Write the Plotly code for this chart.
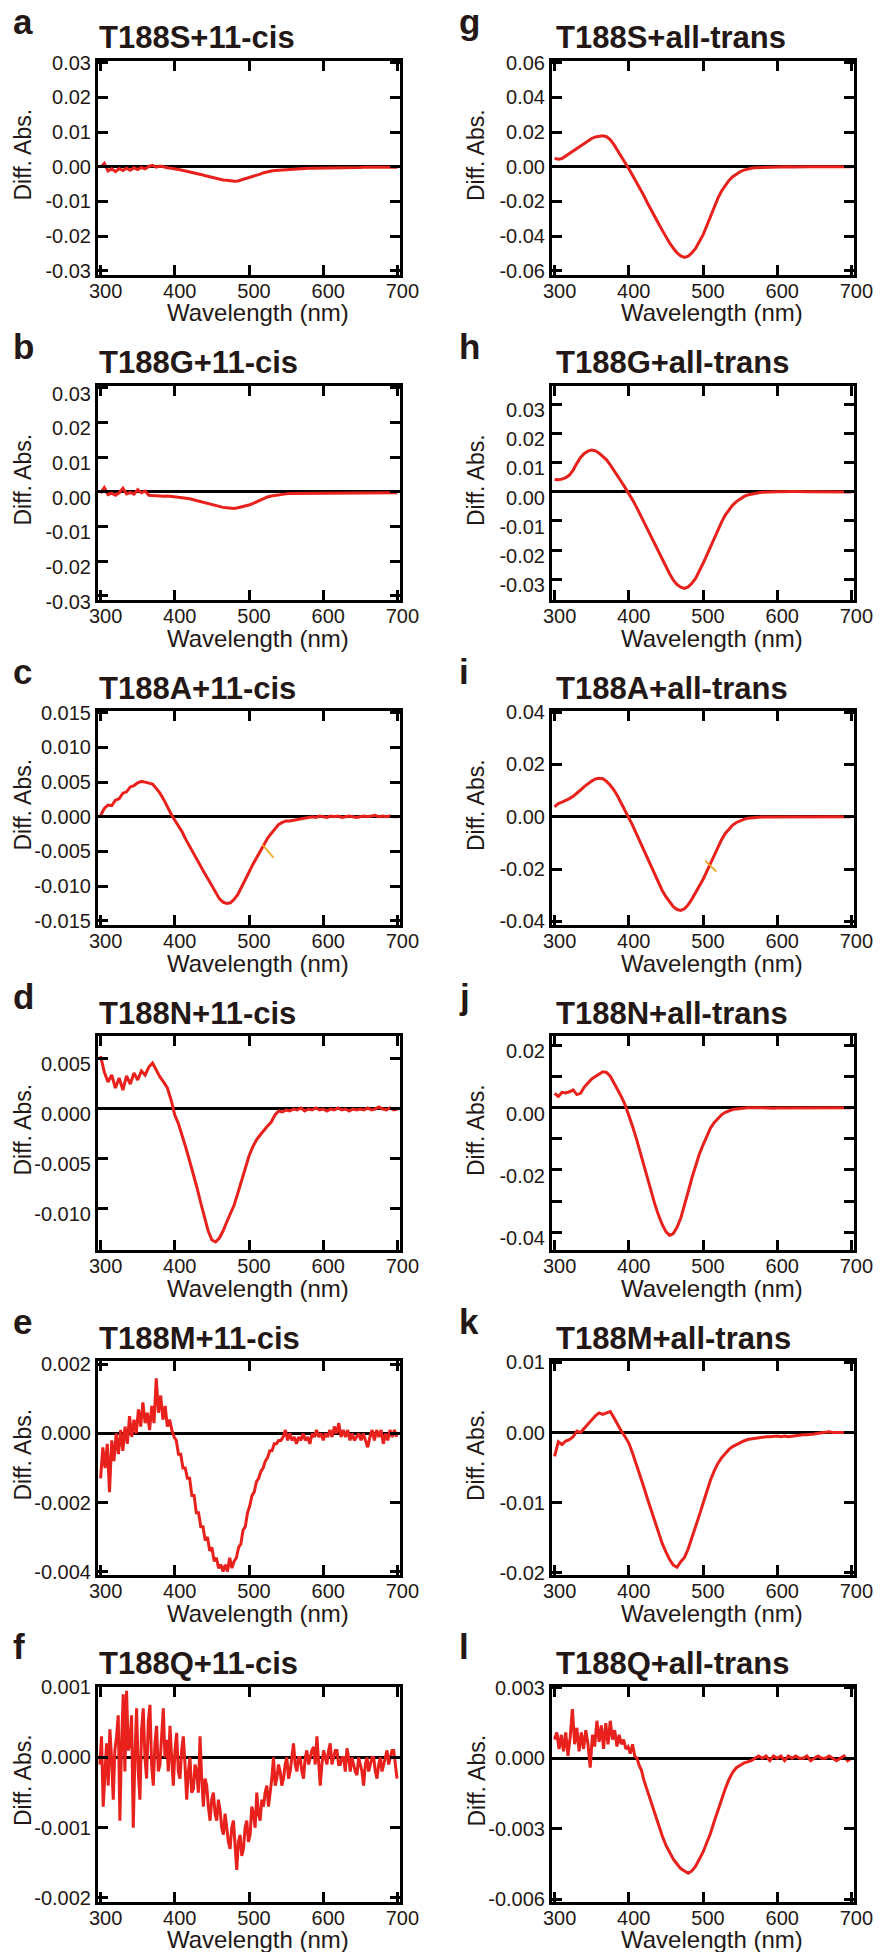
import plotly.graph_objects as go

# ---------------- data ----------------
WL5 = list(range(300, 701, 5))            # 5 nm grid
WL3 = list(range(300, 700, 3))            # 3 nm grid (noisy panel e)
WL_F = [299 + 2.25 * i for i in range(179)]  # sampling used for panel f
WL_L = list(range(300, 420, 3)) + list(range(420, 701, 5))

a_T188S_cis = [
    -0.0002, 0.0010, -0.0012, -0.0006, -0.0014, -0.0005, -0.0011, -0.0004, -0.0010, -0.0003,
    -0.0008, -0.0002, -0.0006, 0.0001, 0.0004, -0.0001, 0.0002, -0.0001, -0.0003, -0.0004,
    -0.0005, -0.0008, -0.0010, -0.0012, -0.0014, -0.0017, -0.0019, -0.0022, -0.0025, -0.0028,
    -0.0031, -0.0034, -0.0036, -0.0038, -0.0039, -0.0041, -0.0042, -0.0041, -0.0038, -0.0035,
    -0.0032, -0.0028, -0.0025, -0.0021, -0.0017, -0.0014, -0.0012, -0.0011, -0.0010, -0.0009,
    -0.0008, -0.0007, -0.0006, -0.0006, -0.0005, -0.0005, -0.0004, -0.0004, -0.0004, -0.0003,
    -0.0003, -0.0003, -0.0003, -0.0002, -0.0003, -0.0002, -0.0002, -0.0002, -0.0002, -0.0002,
    -0.0002, -0.0001, -0.0002, -0.0001, -0.0001, -0.0001, -0.0001, -0.0001, -0.0001, -0.0001,
    -0.0001]

b_T188G_cis = [
    -0.0004, 0.0012, -0.0008, -0.0004, -0.0010, -0.0003, 0.0010, -0.0006, -0.0002, -0.0007,
    0.0006, -0.0003, 0.0002, -0.0010, -0.0011, -0.0012, -0.0011, -0.0013, -0.0012, -0.0014,
    -0.0015, -0.0016, -0.0017, -0.0018, -0.0020, -0.0023, -0.0026, -0.0029, -0.0032, -0.0035,
    -0.0038, -0.0041, -0.0043, -0.0045, -0.0046, -0.0047, -0.0048, -0.0046, -0.0044, -0.0041,
    -0.0038, -0.0034, -0.0029, -0.0024, -0.0019, -0.0015, -0.0012, -0.0010, -0.0008, -0.0007,
    -0.0006, -0.0005, -0.0005, -0.0004, -0.0004, -0.0004, -0.0004, -0.0003, -0.0004, -0.0003,
    -0.0004, -0.0003, -0.0003, -0.0004, -0.0003, -0.0003, -0.0004, -0.0003, -0.0003, -0.0004,
    -0.0003, -0.0003, -0.0004, -0.0003, -0.0003, -0.0003, -0.0004, -0.0003, -0.0003, -0.0003,
    -0.0003]

c_T188A_cis = [
    0.0002, 0.0012, 0.0017, 0.0016, 0.0024, 0.0026, 0.0034, 0.0036, 0.0043, 0.0045,
    0.0049, 0.0051, 0.0050, 0.0049, 0.0047, 0.0041, 0.0034, 0.0025, 0.0014, 0.0004,
    -0.0005, -0.0013, -0.0022, -0.0033, -0.0043, -0.0053, -0.0063, -0.0072, -0.0081, -0.0090,
    -0.0099, -0.0109, -0.0118, -0.0123, -0.0125, -0.0124, -0.0119, -0.0112, -0.0102, -0.0091,
    -0.0080, -0.0069, -0.0059, -0.0049, -0.0040, -0.0031, -0.0024, -0.0017, -0.0011, -0.0008,
    -0.0006, -0.0006, -0.0005, -0.0004, -0.0003, -0.0002, -0.0001, 0.0000, -0.0001, 0.0001,
    0.0000, -0.0001, 0.0001, 0.0000, 0.0001, -0.0001, 0.0000, 0.0001, 0.0000, -0.0001,
    0.0000, 0.0001, 0.0000, 0.0001, 0.0002, 0.0000, 0.0001, 0.0000, 0.0001, 0.0000,
    0.0000]

d_T188N_cis = [
    0.0052, 0.0036, 0.0026, 0.0033, 0.0020, 0.0030, 0.0018, 0.0032, 0.0024, 0.0035,
    0.0028, 0.0037, 0.0033, 0.0041, 0.0045, 0.0038, 0.0031, 0.0026, 0.0020, 0.0008,
    -0.0007, -0.0016, -0.0027, -0.0040, -0.0053, -0.0066, -0.0080, -0.0095, -0.0110, -0.0123,
    -0.0132, -0.0134, -0.0130, -0.0123, -0.0114, -0.0106, -0.0097, -0.0085, -0.0072, -0.0060,
    -0.0048, -0.0039, -0.0032, -0.0027, -0.0022, -0.0018, -0.0014, -0.0007, -0.0003, -0.0004,
    -0.0002, -0.0003, -0.0001, -0.0002, 0.0000, -0.0003, -0.0001, -0.0002, 0.0000, -0.0002,
    -0.0001, -0.0003, -0.0001, -0.0002, 0.0000, -0.0002, -0.0001, -0.0003, -0.0001, -0.0002,
    -0.0001, -0.0002, 0.0000, -0.0002, -0.0001, 0.0001, -0.0001, -0.0002, 0.0000, -0.0002,
    -0.0001]

e_T188M_cis = [
    -0.0013, -0.0004, -0.0010, -0.0003, -0.0017, -0.0002, -0.0008, 0.0000, -0.0006, 0.0001,
    -0.0005, 0.0002, -0.0003, 0.0005, -0.0001, 0.0004, 0.0000, 0.0007, 0.0002, 0.0009,
    0.0003, 0.0006, 0.0001, 0.0008, 0.0003, 0.0016, 0.0006, 0.0011, 0.0004, 0.0008,
    0.0002, 0.0004, 0.0001, -0.0001, -0.0002, -0.0006, -0.0006, -0.0010, -0.0010, -0.0013,
    -0.0013, -0.0018, -0.0018, -0.0023, -0.0023, -0.0027, -0.0027, -0.0031, -0.0030, -0.0034,
    -0.0033, -0.0037, -0.0036, -0.0039, -0.0038, -0.0040, -0.0038, -0.0040, -0.0036, -0.0039,
    -0.0037, -0.0036, -0.0033, -0.0032, -0.0028, -0.0027, -0.0023, -0.0021, -0.0018, -0.0017,
    -0.0014, -0.0013, -0.0011, -0.0010, -0.0008, -0.0007, -0.0005, -0.0005, -0.0003, -0.0003,
    -0.0002, -0.0002, -0.0001, 0.0001, -0.0002, 0.0000, -0.0002, -0.0001, -0.0003, -0.0001,
    -0.0002, 0.0000, -0.0002, -0.0001, -0.0003, 0.0000, -0.0001, 0.0001, -0.0001, 0.0000,
    -0.0002, 0.0000, -0.0001, 0.0001, -0.0001, 0.0002, 0.0000, 0.0003, -0.0001, 0.0001,
    -0.0001, 0.0001, -0.0002, 0.0000, -0.0002, -0.0001, 0.0000, -0.0002, 0.0000, -0.0002,
    -0.0004, -0.0001, 0.0001, -0.0002, 0.0001, -0.0001, 0.0001, -0.0003, 0.0000, -0.0002,
    0.0001, -0.0001, 0.0001, -0.0001]

f_T188Q_cis = [
    -0.0001, 0.0003, -0.0007, -0.0002, 0.0002, -0.0004, 0.0004, 0.0000, -0.0006, 0.0001,
    0.0003, 0.0006, -0.0009, 0.0002, 0.0009, -0.0002, 0.00095, 0.0001, 0.0002, 0.0006,
    -0.0010, 0.0000, 0.0007, -0.0002, -0.0006, 0.0004, 0.0007, 0.0000, -0.0003, 0.0005,
    0.00075, -0.0001, -0.0004, 0.0002, 0.00045, -0.0002, -0.0001, 0.0003, 0.0007, 0.0000,
    0.00025, -0.0002, 0.00045, 0.0000, -0.0004, 0.0001, 0.00035, -0.0002, -0.0003, 0.0001,
    0.0003, -0.0001, -0.0006, -0.0002, 0.0000, -0.0005, -0.00045, -0.0001, -0.0002, -0.0005,
    0.0003, -0.0003, -0.0007, -0.0003, -0.0004, -0.0007, -0.0009, -0.0006, -0.0005, -0.0008,
    -0.0009, -0.0006, -0.00075, -0.0010, -0.0011, -0.0008, -0.0010, -0.0012, -0.0013, -0.0010,
    -0.0009, -0.0012, -0.0016, -0.0012, -0.0011, -0.0014, -0.0013, -0.0010, -0.0009, -0.0012,
    -0.0011, -0.0007, -0.0008, -0.0010, -0.0005, -0.0008, -0.0009, -0.0006, -0.0007, -0.0005,
    -0.0004, -0.0007, -0.0005, -0.0003, 0.0000, -0.0004, -0.0003, -0.0001, -0.0002, -0.0004,
    -0.0003, -0.0001, 0.0000, -0.0003, -0.0002, 0.0000, 0.0002, -0.0001, -0.0002, 0.0000,
    0.0000, -0.0002, -0.0003, 0.0000, 0.0001, -0.0001, 0.0000, 0.0001, 0.00015, -0.0001,
    0.0003, 0.0000, -0.0004, -0.0001, 0.0001, 0.0000, -0.0001, 0.0001, 0.0002, -0.0001,
    0.0000, 0.0001, 0.0001, -0.0001, -0.0001, 0.0000, 0.0000, -0.0002, 0.00013, 0.0000,
    -0.0002, 0.0000, -0.0001, -0.0002, -0.00025, 0.0000, -0.0001, -0.0002, -0.0004, -0.0001,
    0.0000, -0.0002, -0.0001, 0.0000, 0.0000, -0.0002, -0.0003, -0.0001, 0.0000, -0.0002,
    -0.0001, 0.0000, 0.0001, -0.0001, 0.0000, 0.0001, 0.0001, -0.0001,
    -0.0003]

g_T188S_trans = [
    0.0048, 0.0043, 0.0047, 0.0060, 0.0076, 0.0090, 0.0105, 0.0120, 0.0135, 0.0150,
    0.0163, 0.0172, 0.0177, 0.0178, 0.0173, 0.0156, 0.0127, 0.0094, 0.0058, 0.0022,
    -0.0012, -0.0050, -0.0087, -0.0125, -0.0165, -0.0208, -0.0250, -0.0289, -0.0328, -0.0366,
    -0.0404, -0.0440, -0.0471, -0.0497, -0.0515, -0.0523, -0.0516, -0.0498, -0.0472, -0.0437,
    -0.0394, -0.0342, -0.0288, -0.0234, -0.0183, -0.0140, -0.0106, -0.0079, -0.0058, -0.0042,
    -0.0029, -0.0020, -0.0013, -0.0009, -0.0006, -0.0005, -0.0004, -0.0003, -0.0003, -0.0002,
    -0.0002, -0.0002, -0.0002, -0.0001, -0.0002, -0.0001, -0.0001, -0.0001, -0.0001, -0.0001,
    -0.0001, -0.0001, 0.0000, -0.0001, 0.0000, 0.0000, 0.0000, -0.0001, 0.0000, 0.0000,
    0.0000]

h_T188G_trans = [
    0.0042, 0.0041, 0.0043, 0.0048, 0.0057, 0.0074, 0.0097, 0.0117, 0.0131, 0.0139,
    0.0143, 0.0140, 0.0132, 0.0121, 0.0109, 0.0092, 0.0074, 0.0054, 0.0034, 0.0014,
    -0.0006, -0.0028, -0.0051, -0.0077, -0.0103, -0.0128, -0.0154, -0.0180, -0.0206, -0.0232,
    -0.0257, -0.0281, -0.0303, -0.0318, -0.0327, -0.0331, -0.0326, -0.0314, -0.0297, -0.0273,
    -0.0246, -0.0218, -0.0189, -0.0160, -0.0131, -0.0104, -0.0080, -0.0061, -0.0046, -0.0034,
    -0.0025, -0.0017, -0.0011, -0.0008, -0.0006, -0.0004, -0.0002, -0.0001, -0.0001, 0.0000,
    0.0000, 0.0000, 0.0001, 0.0000, 0.0001, 0.0001, 0.0000, 0.0001, 0.0000, 0.0000,
    0.0000, 0.0000, 0.0000, -0.0001, 0.0000, 0.0000, -0.0001, 0.0000, 0.0000, -0.0001,
    -0.0001]

i_T188A_trans = [
    0.0038, 0.0050, 0.0056, 0.0062, 0.0069, 0.0078, 0.0089, 0.0102, 0.0115, 0.0127,
    0.0136, 0.0144, 0.0147, 0.0145, 0.0135, 0.0120, 0.0102, 0.0078, 0.0051, 0.0025,
    0.0000, -0.0032, -0.0064, -0.0096, -0.0127, -0.0159, -0.0191, -0.0223, -0.0255, -0.0282,
    -0.0306, -0.0327, -0.0344, -0.0355, -0.0358, -0.0352, -0.0337, -0.0315, -0.0290, -0.0266,
    -0.0240, -0.0210, -0.0180, -0.0148, -0.0116, -0.0088, -0.0064, -0.0046, -0.0032, -0.0022,
    -0.0015, -0.0010, -0.0006, -0.0004, -0.0003, -0.0002, -0.0001, -0.0001, 0.0000, 0.0000,
    0.0000, 0.0000, 0.0001, 0.0000, 0.0000, 0.0000, 0.0001, 0.0000, 0.0000, 0.0000,
    0.0000, 0.0000, 0.0000, 0.0000, 0.0000, 0.0001, 0.0000, 0.0000, 0.0000, 0.0000,
    0.0000]

j_T188N_trans = [
    0.0046, 0.0036, 0.0049, 0.0047, 0.0051, 0.0057, 0.0042, 0.0046, 0.0066, 0.0080,
    0.0092, 0.0100, 0.0107, 0.0115, 0.0113, 0.0101, 0.0079, 0.0058, 0.0035, 0.0009,
    -0.0024, -0.0060, -0.0098, -0.0140, -0.0184, -0.0227, -0.0270, -0.0309, -0.0345, -0.0375,
    -0.0398, -0.0410, -0.0404, -0.0384, -0.0355, -0.0316, -0.0270, -0.0226, -0.0184, -0.0150,
    -0.0120, -0.0091, -0.0066, -0.0048, -0.0034, -0.0023, -0.0015, -0.0010, -0.0006, -0.0004,
    -0.0002, -0.0001, 0.0000, 0.0000, -0.0001, 0.0000, 0.0000, -0.0001, -0.0001, -0.0002,
    -0.0001, -0.0001, 0.0000, 0.0000, 0.0000, -0.0001, 0.0000, 0.0000, 0.0000, 0.0000,
    0.0000, 0.0000, 0.0000, -0.0001, 0.0000, 0.0000, 0.0000, -0.0001, 0.0000, 0.0000,
    0.0000]

k_T188M_trans = [
    -0.0034, -0.0013, -0.0017, -0.0012, -0.0010, -0.0006, 0.0002, 0.0000, 0.0006, 0.0012,
    0.0019, 0.0024, 0.0028, 0.0026, 0.0028, 0.0030, 0.0021, 0.0011, 0.0002, -0.0006,
    -0.0015, -0.0029, -0.0044, -0.0060, -0.0077, -0.0094, -0.0110, -0.0127, -0.0144, -0.0158,
    -0.0170, -0.0181, -0.0189, -0.0192, -0.0184, -0.0178, -0.0166, -0.0151, -0.0134, -0.0118,
    -0.0101, -0.0084, -0.0068, -0.0055, -0.0044, -0.0036, -0.0030, -0.0024, -0.0020, -0.0017,
    -0.0014, -0.0012, -0.0010, -0.0009, -0.0008, -0.0008, -0.0007, -0.0006, -0.0006, -0.0005,
    -0.0005, -0.0006, -0.0005, -0.0006, -0.0005, -0.0004, -0.0004, -0.0003, -0.0003, -0.0003,
    -0.0002, -0.0001, 0.0000, 0.0000, 0.0001, 0.0000, 0.0000, 0.0000, 0.0000, 0.0000,
    0.0000]

l_T188Q_trans = [
    0.0008, 0.0011, 0.0004, 0.0010, 0.0003, 0.0011, 0.0001, 0.0009, 0.0021, 0.0006,
    0.0013, 0.0003, 0.0011, 0.0004, 0.0012, 0.0006, -0.0004, 0.0010, 0.0005, 0.0016,
    0.0007, 0.0014, 0.0004, 0.0015, 0.0006, 0.0016, 0.0008, 0.0012, 0.0005, 0.0010,
    0.0006, 0.0008, 0.0004, 0.0005, 0.0002, 0.0006, 0.0001, 0.0000, -0.0003, -0.0005,
    -0.0009, -0.0014, -0.0019, -0.0024, -0.0029, -0.0033, -0.0037, -0.0040, -0.0043, -0.0045,
    -0.0047, -0.0048, -0.0049, -0.0048, -0.0046, -0.0043, -0.0040, -0.0036, -0.0032, -0.0027,
    -0.0022, -0.0017, -0.0013, -0.0009, -0.0006, -0.0004, -0.0003, -0.0002, -0.00015, -0.0001,
    0.0000, 0.0001, 0.0000, 0.0001, -0.0001, 0.0001, 0.0000, 0.0001, -0.0001, 0.0001,
    0.0000, 0.0001, 0.0000, 0.0000, 0.0001, -0.0001, 0.0000, 0.0001, 0.0000, 0.0000,
    0.0001, 0.0000, -0.0001, 0.0000, 0.0001, -0.0001, 0.0000]

# small orange marks seen in panels c and i
c_mark_x = [518, 533]
c_mark_y = [-0.0040, -0.0059]
i_mark_x = [503, 518]
i_mark_y = [-0.0168, -0.0210]

X_TICKS = [300, 400, 500, 600, 700]
X_LABELS = ["300", "400", "500", "600", "700"]

panels = [
    # letter, title, x, y, y-range, tickvals, ticktext, label shift
    ("a", "T188S+11-cis", WL5, a_T188S_cis, [-0.0312, 0.0305],
     [0.03, 0.02, 0.01, 0, -0.01, -0.02, -0.03],
     ["0.03", "0.02", "0.01", "0.00", "-0.01", "-0.02", "-0.03"], 0),
    ("b", "T188G+11-cis", WL5, b_T188G_cis, [-0.0312, 0.0305],
     [0.03, 0.02, 0.01, 0, -0.01, -0.02, -0.03],
     ["0.03", "0.02", "0.01", "0.00", "-0.01", "-0.02", "-0.03"], 6),
    ("c", "T188A+11-cis", WL5, c_T188A_cis, [-0.0156, 0.01525],
     [0.015, 0.010, 0.005, 0, -0.005, -0.010, -0.015],
     ["0.015", "0.010", "0.005", "0.000", "-0.005", "-0.010", "-0.015"], 0),
    ("d", "T188N+11-cis", WL5, d_T188N_cis, [-0.0142, 0.0072],
     [0.005, 0, -0.005, -0.010],
     ["0.005", "0.000", "-0.005", "-0.010"], 6),
    ("e", "T188M+11-cis", WL3, e_T188M_cis, [-0.0041, 0.0021],
     [0.002, 0, -0.002, -0.004],
     ["0.002", "0.000", "-0.002", "-0.004"], 0),
    ("f", "T188Q+11-cis", WL_F, f_T188Q_cis, [-0.00205, 0.00101],
     [0.001, 0, -0.001, -0.002],
     ["0.001", "0.000", "-0.001", "-0.002"], 0),
    ("g", "T188S+all-trans", WL5, g_T188S_trans, [-0.0625, 0.061],
     [0.06, 0.04, 0.02, 0, -0.02, -0.04, -0.06],
     ["0.06", "0.04", "0.02", "0.00", "-0.02", "-0.04", "-0.06"], 0),
    ("h", "T188G+all-trans", WL5, h_T188G_trans, [-0.0371, 0.0362],
     [0.03, 0.02, 0.01, 0, -0.01, -0.02, -0.03],
     ["0.03", "0.02", "0.01", "0.00", "-0.01", "-0.02", "-0.03"], 6),
    ("i", "T188A+all-trans", WL5, i_T188A_trans, [-0.0414, 0.0404],
     [0.04, 0.02, 0, -0.02, -0.04],
     ["0.04", "0.02", "0.00", "-0.02", "-0.04"], 0),
    ("j", "T188N+all-trans", WL5, j_T188N_trans, [-0.0457, 0.023],
     [0.02, 0.01, 0, -0.01, -0.02, -0.03, -0.04],
     ["0.02", "", "0.00", "", "-0.02", "", "-0.04"], 6),
    ("k", "T188M+all-trans", WL5, k_T188M_trans, [-0.0203, 0.0102],
     [0.01, 0, -0.01, -0.02],
     ["0.01", "0.00", "-0.01", "-0.02"], 0),
    ("l", "T188Q+all-trans", WL_L, l_T188Q_trans, [-0.0061, 0.00306],
     [0.003, 0, -0.003, -0.006],
     ["0.003", "0.000", "-0.003", "-0.006"], 0),
]

for p in panels:
    assert len(p[2]) == len(p[3]), (p[0], len(p[2]), len(p[3]))

# ---------------- styling / layout ----------------
W, H = 880, 1952
RED = "#e8211c"
ORANGE = "#f5a21b"
TXT = "#231815"
FONT = "Liberation Sans, Arial, Helvetica, sans-serif"

COL_X = [(98, 400), (552, 854)]
ROW_TOP = [61, 386, 711, 1036, 1361, 1686.5]
ROW_H = [214, 214, 214, 214, 214, 215]


def px(x):
    return x / W


def py(y):
    return 1 - y / H


fig = go.Figure()
annotations = []
axis_style = dict(
    ticks="inside", ticklen=10, tickwidth=2.5, tickcolor="black",
    showline=True, linecolor="black", linewidth=3, mirror="ticks",
    showgrid=False, tickfont=dict(family=FONT, size=20, color=TXT),
)

for idx, (letter, title, xs, ys, yr, tv, tt, shift) in enumerate(panels):
    n = idx + 1
    col = idx // 6
    row = idx % 6
    x0, x1 = COL_X[col]
    top = ROW_TOP[row]
    bot = top + ROW_H[row]
    xa = "x" if n == 1 else f"x{n}"
    ya = "y" if n == 1 else f"y{n}"
    xkey = "xaxis" if n == 1 else f"xaxis{n}"
    ykey = "yaxis" if n == 1 else f"yaxis{n}"

    fig.add_trace(go.Scatter(x=xs, y=ys, mode="lines", xaxis=xa, yaxis=ya,
                             line=dict(color=RED, width=3), showlegend=False,
                             hoverinfo="skip"))
    if letter == "c":
        fig.add_trace(go.Scatter(x=c_mark_x, y=c_mark_y, mode="lines", xaxis=xa, yaxis=ya,
                                 line=dict(color=ORANGE, width=1.8), showlegend=False,
                                 hoverinfo="skip"))
    if letter == "i":
        fig.add_trace(go.Scatter(x=i_mark_x, y=i_mark_y, mode="lines", xaxis=xa, yaxis=ya,
                                 line=dict(color=ORANGE, width=1.8), showlegend=False,
                                 hoverinfo="skip"))

    fig.layout[xkey] = dict(
        axis_style, domain=[px(x0), px(x1)], range=[296.5, 703.5], anchor=ya,
        tickmode="array", tickvals=X_TICKS, ticktext=X_LABELS, zeroline=False,
        ticklabelshift=5, ticklabelstandoff=-4,
    )
    fig.layout[ykey] = dict(
        axis_style, domain=[py(bot), py(top)], range=yr, anchor=xa,
        tickmode="array", tickvals=tv, ticktext=tt,
        zeroline=True, zerolinecolor="black", zerolinewidth=2.5,
        ticklabelshift=shift,
    )

    # panel letter
    annotations.append(dict(
        text=f"<b>{letter}</b>", x=px(11 if col == 0 else 457), y=py(top - 40),
        xref="paper", yref="paper", xanchor="left", yanchor="middle", showarrow=False,
        font=dict(family=FONT, size=35, color=TXT)))
    # panel title
    annotations.append(dict(
        text=f"<b>{title}</b>", x=px(x0 - 1 if col == 0 else x0 + 2), y=py(top - 23),
        xref="paper", yref="paper", xanchor="left", yanchor="middle", showarrow=False,
        font=dict(family=FONT, size=31, color=TXT)))
    # y-axis title
    annotations.append(dict(
        text="Diff. Abs.", x=px(22.5 if col == 0 else 476), y=py(top + 94),
        xref="paper", yref="paper", xanchor="center", yanchor="middle", showarrow=False,
        textangle=-90, font=dict(family=FONT, size=23, color=TXT)))
    # x-axis title
    annotations.append(dict(
        text="Wavelength (nm)", x=px((x0 + x1) / 2 + 9), y=py(bot + 38),
        xref="paper", yref="paper", xanchor="center", yanchor="middle", showarrow=False,
        font=dict(family=FONT, size=24, color=TXT)))

fig.update_layout(
    width=W, height=H,
    margin=dict(l=0, r=0, t=0, b=0, autoexpand=False),
    paper_bgcolor="white", plot_bgcolor="white",
    annotations=annotations,
    showlegend=False,
)

# the page's default 8px body margin would shift the whole figure; remove it
fig.write_html("out.html", config={"displayModeBar": False},
               post_script="document.body.style.margin='0px';")
